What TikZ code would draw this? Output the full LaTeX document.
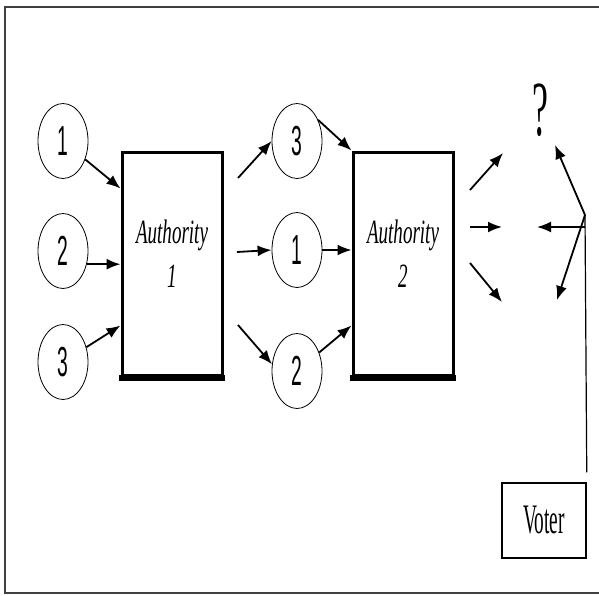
\documentclass[tikz,border=0pt]{standalone}
\usepackage{fontspec}
\setmainfont{Liberation Serif}
\newfontfamily\digitfont[FakeStretch=0.46]{Liberation Sans}
\newfontfamily\authfont[FakeStretch=0.56]{Liberation Serif}
\newfontfamily\voterfont[FakeStretch=0.46]{Liberation Serif}
\usetikzlibrary{shapes.geometric,arrows.meta}

\begin{document}
\begin{tikzpicture}[x=1pt, y=-1pt,
    token/.style={ellipse, draw, line width=0.8pt, minimum width=50pt, minimum height=75pt,
        inner sep=0pt, font=\digitfont\fontsize{42}{42}\selectfont},
    authority/.style={rectangle, draw, line width=3pt, minimum width=100pt, minimum height=223pt,
        align=center, text depth=20pt, font=\authfont\itshape\fontsize{34}{44}\selectfont},
    shade/.style={line width=6pt},
    arr/.style={-{Latex[length=14pt,width=11pt]}, line width=1.8pt}]
        \useasboundingbox (0,0) rectangle (599,595);
        \draw[line width=1.5pt, black!75] (599,7) -- (5,7) -- (5,593) -- (599,593);

        \node[token] (c11) at (63,141) {1};
        \node[token] (c12) at (63,251) {2};
        \node[token] (c13) at (63,362) {3};
        \node[authority] (a1) at (172,263.5) {Authority\\1};
        \node[token] (c23) at (297,141) {3};
        \node[token] (c21) at (297,250) {1};
        \node[token] (c22) at (297,371) {2};
        \node[authority] (a2) at (403,263.5) {Authority\\2};
        \node[anchor=base, font=\voterfont\fontsize{78}{78}\selectfont] (q) at (540,135) {?};
        \node[rectangle, draw, line width=1.5pt, minimum width=84pt, minimum height=75pt,
            font=\voterfont\fontsize{42}{42}\selectfont] (v) at (544,520.5) {Voter};

        \draw[shade] ([xshift=-1.5pt,yshift=-1.5pt]a1.south west) -- ([xshift=1.5pt,yshift=-1.5pt]a1.south east);
        \draw[shade] ([xshift=-1.5pt,yshift=-1.5pt]a2.south west) -- ([xshift=1.5pt,yshift=-1.5pt]a2.south east);

        \coordinate (o11) at (238,178);
        \coordinate (o12) at (237,252);
        \coordinate (o13) at (238,325);
        \coordinate (o21) at (470,190);
        \coordinate (o22) at (470,227);
        \coordinate (o23) at (470,263);
        \coordinate (t21) at (503,153);
        \coordinate (t22) at (502,227);
        \coordinate (t23) at (502,302);
        \coordinate (vt) at (585,215);
        \coordinate (t31) at (555,145);
        \coordinate (t32) at (537,227);
        \coordinate (t33) at (557,300);

        \draw[arr] (c11) -- ([yshift=-38pt]a1.north west);
        \draw[arr] (c12.-29) -- (c12.-29 -| a1.west);
        \draw[arr] (c13) -- ([yshift=-175pt]a1.north west);

        \draw[arr] (o11) -- (c23.west);
        \draw[arr] (o12) -- (c21.west);
        \draw[arr] (o13) -- (c22.165);

        \draw[arr] (c23.45) -- (a2.north west);
        \draw[arr] (c21.east) -- (c21.east -| a2.west);
        \draw[arr] (c22) -- ([yshift=-175pt]a2.north west);

        \draw[arr] (o21) -- (t21);
        \draw[arr] (o22) -- (t22);
        \draw[arr] (o23) -- (t23);

        \draw[line width=1.2pt] (vt) -- ([yshift=10pt]v.north east);
        \draw[arr] (vt) -- (t31);
        \draw[arr] (t32 -| vt) -- (t32);
        \draw[arr] (vt) -- (t33);
\end{tikzpicture}
\end{document}
